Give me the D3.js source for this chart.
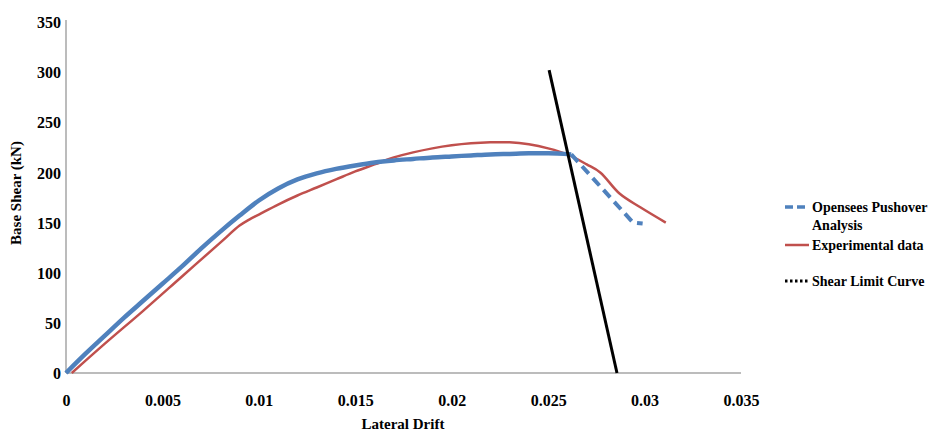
<!DOCTYPE html>
<html><head><meta charset="utf-8">
<script src="https://cdn.jsdelivr.net/npm/d3@7"></script>
<style>body{margin:0;background:#fff}svg{display:block}text{font-family:"Liberation Serif","Times New Roman",serif;font-weight:bold;fill:#000}</style>
</head><body><svg id="c" width="938" height="434"></svg>
<script>
const xTicks = [0, 0.005, 0.01, 0.015, 0.02, 0.025, 0.03, 0.035];
const yTicks = [0, 50, 100, 150, 200, 250, 300, 350];
const openseesDrift = [0,0.001,0.002,0.003,0.004,0.005,0.006,0.007,0.008,0.009,0.010,0.011,0.012,0.013,0.014,0.015,0.016,0.017,0.018,0.019,0.020,0.021,0.022,0.023,0.024,0.025,0.0262];
const openseesShear = [0,19,37,55,72,89,106,124,141,157,172,184,193,199,203.5,207,210,212,213.5,215,216,217,218,218.5,219,219,218];
const openseesDropDrift = [0.0262,0.0294,0.0299];
const openseesDropShear = [218,150,149];
const expDrift = [0.0003,0.002,0.004,0.006,0.008,0.009,0.0095,0.010,0.011,0.012,0.013,0.014,0.015,0.016,0.017,0.018,0.019,0.020,0.021,0.022,0.023,0.024,0.025,0.026,0.027,0.0277,0.0287,0.0298,0.0311];
const expShear = [0,29,62,96,130,147,153,158,168,177,185,193,201,208,215,220,224,227,229,230,230,228,224,218,208,200,179,165,150];
const limitDrift = [0.02505,0.02857];
const limitShear = [302,0];
const legendLabels = ["Opensees Pushover Analysis","Experimental data","Shear Limit Curve"];

const svg = d3.select("#c");
const x = d3.scaleLinear().domain([0,0.035]).range([66,741]);
const y = d3.scaleLinear().domain([0,350]).range([373,22]);

const xAxis = svg.append("g").attr("transform","translate(0,373)")
  .call(d3.axisBottom(x).tickValues(xTicks).tickSize(0).tickPadding(22).tickFormat(d=>d===0?"0":String(+d.toFixed(3))));
const yAxis = svg.append("g").attr("transform","translate(66,0)")
  .call(d3.axisLeft(y).tickValues(yTicks).tickSize(0).tickPadding(5));
[xAxis,yAxis].forEach(g=>{
  g.select(".domain").attr("stroke","#a6a6a6").attr("stroke-width",1.5);
  g.selectAll("text").attr("font-size",16).attr("font-family","Liberation Serif, serif").attr("font-weight","bold").attr("fill","#000");
});
yAxis.selectAll("text").attr("dy","0.35em");
xAxis.selectAll("text").attr("dy","0.71em");
xAxis.select(".domain").attr("d","M66,0H741");
yAxis.select(".domain").attr("d","M0,20V373");

svg.append("text").attr("x",403).attr("y",429).attr("text-anchor","middle").attr("font-size",15).text("Lateral Drift");
svg.append("text").attr("transform","translate(21,193) rotate(-90)").attr("text-anchor","middle").attr("font-size",15).text("Base Shear (kN)");

const line = d3.line().x(d=>x(d[0])).y(d=>y(d[1])).curve(d3.curveCatmullRom.alpha(0.5));
const lin = d3.line().x(d=>x(d[0])).y(d=>y(d[1]));

svg.append("path").attr("d",line(expDrift.map((d,i)=>[d,expShear[i]])))
  .attr("fill","none").attr("stroke","#c0504d").attr("stroke-width",2.5);
svg.append("path").attr("d",line(openseesDrift.map((d,i)=>[d,openseesShear[i]])))
  .attr("fill","none").attr("stroke","#4f81bd").attr("stroke-width",4.5);
svg.append("path").attr("d",lin(openseesDropDrift.map((d,i)=>[d,openseesDropShear[i]])))
  .attr("fill","none").attr("stroke","#4f81bd").attr("stroke-width",4).attr("stroke-dasharray","10,6");
svg.append("path").attr("d",lin(limitDrift.map((d,i)=>[d,limitShear[i]])))
  .attr("fill","none").attr("stroke","#000").attr("stroke-width",3);

const lg = svg.append("g");
const ly = [207,245,281];
lg.append("line").attr("x1",785).attr("x2",809).attr("y1",ly[0]).attr("y2",ly[0]).attr("stroke","#4f81bd").attr("stroke-width",3.5).attr("stroke-dasharray","8,4");
lg.append("line").attr("x1",785).attr("x2",809).attr("y1",ly[1]).attr("y2",ly[1]).attr("stroke","#c0504d").attr("stroke-width",2.5);
lg.append("line").attr("x1",785).attr("x2",809).attr("y1",ly[2]).attr("y2",ly[2]).attr("stroke","#000").attr("stroke-width",3).attr("stroke-dasharray","2.5,2.5");
const t0 = lg.append("text").attr("x",812).attr("y",ly[0]).attr("dy","0.35em").attr("font-size",14);
t0.append("tspan").text("Opensees Pushover");
t0.append("tspan").attr("x",812).attr("dy","1.3em").text("Analysis");
lg.append("text").attr("x",812).attr("y",ly[1]).attr("dy","0.35em").attr("font-size",14).text(legendLabels[1]);
lg.append("text").attr("x",812).attr("y",ly[2]).attr("dy","0.35em").attr("font-size",14).text(legendLabels[2]);
</script></body></html>
